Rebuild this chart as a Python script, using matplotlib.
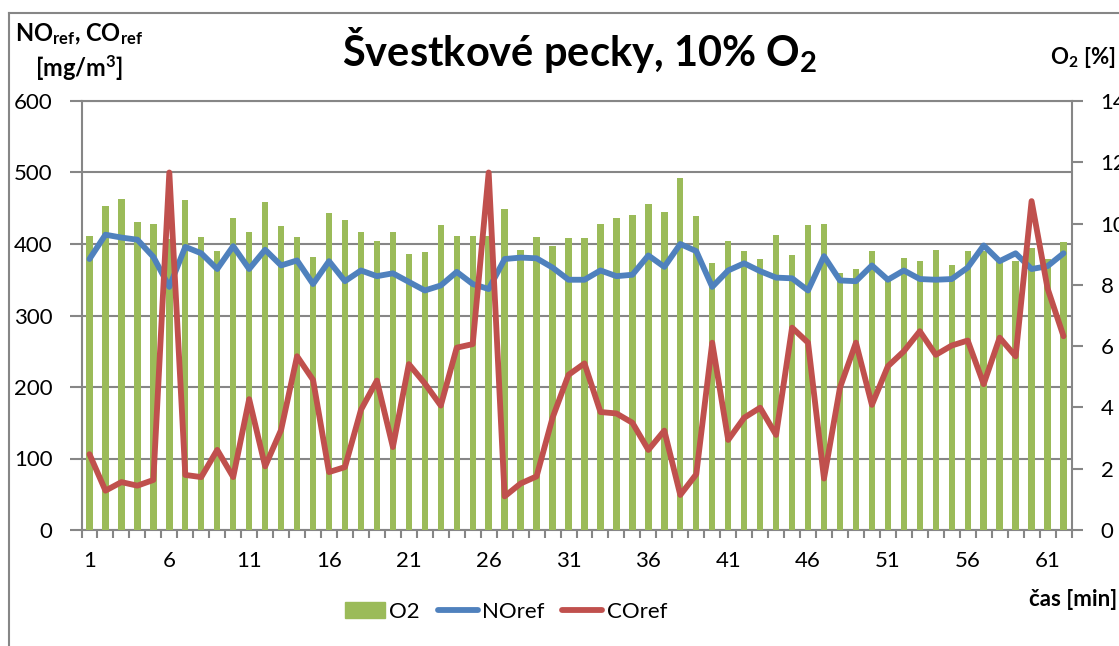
import matplotlib.pyplot as plt
from matplotlib.lines import Line2D

plt.rcParams['font.family'] = ['Lato', 'DejaVu Sans']
plt.rcParams['mathtext.default'] = 'regular'

minutes = list(range(1, 63))

o2 = [9.59, 10.58, 10.81, 10.05, 9.99, 9.5, 10.76, 9.55, 9.12, 10.18,
      9.73, 10.70, 9.91, 9.55, 8.90, 10.35, 10.13, 9.71, 9.42, 9.71,
      9.00, 9.06, 9.96, 9.61, 9.58, 9.6, 10.48, 9.13, 9.55, 9.26,
      9.52, 9.54, 10.0, 10.19, 10.28, 10.65, 10.38, 11.5, 10.24, 8.70,
      9.42, 9.11, 8.83, 9.63, 8.97, 9.95, 9.99, 8.38, 8.51, 9.09,
      8.2, 8.88, 8.78, 9.13, 8.64, 9.09, 9.1, 8.8, 8.78, 9.19,
      8.85, 9.39]

no_ref = [379, 413, 409, 406, 382, 340, 396, 387, 365, 397,
          365, 392, 370, 377, 344, 376, 348, 363, 355, 359,
          347, 335, 342, 361, 344, 337, 379, 381, 380, 367,
          350, 350, 363, 355, 357, 384, 368, 400, 390, 340,
          363, 373, 362, 353, 352, 335, 383, 349, 348, 370,
          350, 363, 351, 350, 351, 367, 398, 376, 387, 365,
          369, 387]

co_ref = [106, 55, 67, 62, 70, 500, 77, 74, 112, 74,
          183, 89, 140, 243, 210, 81, 88, 168, 209, 116,
          232, 205, 174, 255, 260, 500, 47, 65, 75, 157,
          217, 233, 165, 163, 150, 112, 139, 49, 78, 262,
          126, 157, 171, 133, 283, 262, 72, 199, 262, 175,
          229, 250, 278, 245, 258, 265, 204, 269, 243, 460,
          338, 271]

x_labels = [1, 6, 11, 16, 21, 26, 31, 36, 41, 46, 51, 56, 61]

green = '#9BBB59'
blue = '#4F81BD'
red = '#C0504D'
grey = '#868686'

W, H = 1119, 646
fig = plt.figure(figsize=(W / 100, H / 100), dpi=100)
ax = fig.add_axes([81.5 / W, 116 / H, 990 / W, 429 / H])

# left axis: NOref / COref scale, carries the gridlines
ax.set_xlim(0.5, 62.5)
ax.set_ylim(0, 600)
ax.set_yticks(range(0, 601, 100))
ax.yaxis.grid(True, color=grey, lw=1.5)
ax.set_axisbelow(True)
for side in ['left', 'bottom', 'top']:
    ax.spines[side].set_color(grey)
    ax.spines[side].set_linewidth(1.5)
ax.spines['right'].set_visible(False)
ax.tick_params(axis='y', length=9, width=1.5, color=grey, pad=12, labelsize=16)

ax.set_xticks(x_labels)
ax.set_xticks([m + 0.5 for m in range(0, 63)], minor=True)
ax.tick_params(axis='x', which='major', length=0, pad=15, labelsize=16)
ax.tick_params(axis='x', which='minor', length=6, width=1.5, color=grey)

# right axis: O2 bars
ax_bar = ax.twinx()
ax_bar.bar(minutes, o2, width=0.4, color=green, label='O2')
ax_bar.set_ylim(0, 14)
ax_bar.set_yticks(range(0, 15, 2))
for side in ['left', 'bottom', 'top']:
    ax_bar.spines[side].set_visible(False)
ax_bar.spines['right'].set_color(grey)
ax_bar.spines['right'].set_linewidth(1.5)
ax_bar.tick_params(axis='y', length=8, width=1.5, color=grey, pad=13, labelsize=16)

# lines on top, same scale as left axis
ax_line = ax.twinx()
ax_line.set_ylim(0, 600)
ax_line.yaxis.set_visible(False)
for s in ax_line.spines.values():
    s.set_visible(False)
ax_line.plot(minutes, no_ref, color=blue, lw=4.2, solid_joinstyle='round',
             solid_capstyle='round', label='NOref')
ax_line.plot(minutes, co_ref, color=red, lw=4.2, solid_joinstyle='round',
             solid_capstyle='round', label='COref')

fig.text(580 / W, 1 - 50 / H, r'Švestkové pecky, 10% O$_{2}$',
         ha='center', va='center', fontsize=30, fontweight='bold')
fig.text(79 / W, 1 - 52 / H, 'NO$_{ref}$, CO$_{ref}$\n[mg/m$^{3}$]',
         ha='center', va='center', multialignment='center',
         fontsize=17, fontweight='bold', linespacing=1.25)
fig.text(1116 / W, 1 - 57 / H, 'O$_{2}$ [%]', ha='right', va='center',
         fontsize=16, fontweight='bold')
fig.text(1117 / W, 1 - 600 / H, 'čas [min]', ha='right', va='center',
         fontsize=16, fontweight='bold')

handles = [plt.Rectangle((0, 0), 1, 1, color=green),
           Line2D([], [], color=blue, lw=4.2, solid_capstyle='round'),
           Line2D([], [], color=red, lw=4.2, solid_capstyle='round')]
fig.legend(handles, ['O2', 'NOref', 'COref'], loc='center',
           bbox_to_anchor=(506 / W, 1 - 612 / H), ncol=3, frameon=False,
           fontsize=16, handlelength=1.8, handletextpad=0.2,
           columnspacing=0.8)

# outer chart frame
fig.add_artist(Line2D([9 / W, 1], [1 - 13 / H, 1 - 13 / H],
                      transform=fig.transFigure, color=grey, lw=1.5))
fig.add_artist(Line2D([9 / W, 9 / W], [1 - 13 / H, 0],
                      transform=fig.transFigure, color=grey, lw=1.5))

fig.savefig('out.png', dpi=100)
